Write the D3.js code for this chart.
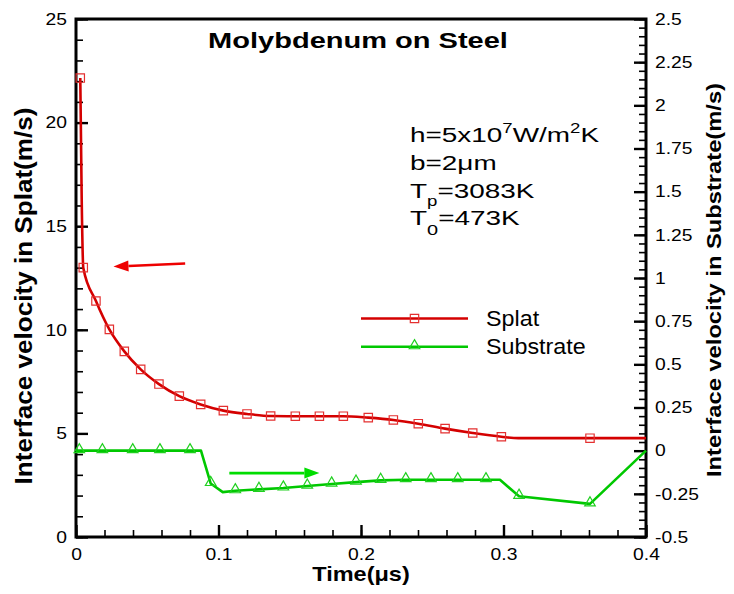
<!DOCTYPE html>
<html>
<head>
<meta charset="utf-8">
<script src="https://cdn.jsdelivr.net/npm/d3@7"></script>
<style>
  html, body { margin: 0; padding: 0; background: #fff; }
  svg { display: block; font-family: "Liberation Sans", Arial, sans-serif; }
</style>
</head>
<body>
<svg id="chart" width="734" height="594"></svg>
<script>
// splat interface velocity (left axis, m/s)
const splatTime = [0.003, 0.004, 0.0051, 0.014, 0.0234, 0.0339, 0.0454, 0.0582, 0.0725, 0.0875,
  0.1034, 0.12, 0.1366, 0.1539, 0.1708, 0.1876, 0.2051, 0.2227, 0.2402, 0.259, 0.2784,
  0.2985, 0.3104, 0.3607, 0.4];
const splatVel = [22.15, 16.3, 13.0, 11.39, 10.02, 8.96, 8.09, 7.38, 6.80, 6.40,
  6.10, 5.94, 5.84, 5.83, 5.83, 5.83, 5.76, 5.65, 5.47, 5.23, 5.02,
  4.84, 4.77, 4.77, 4.77];
const splatSymbol = [1, 0, 1, 1, 1, 1, 1, 1, 1, 1,
  1, 1, 1, 1, 1, 1, 1, 1, 1, 1, 1,
  1, 0, 1, 0];

// substrate interface velocity (right axis, m/s)
const substrateTime = [0, 0.0023, 0.0185, 0.0398, 0.0589, 0.08, 0.0877, 0.0945, 0.103, 0.1118,
  0.1284, 0.1455, 0.1623, 0.1794, 0.1965, 0.2138, 0.2314, 0.2491, 0.2679, 0.2877,
  0.2975, 0.3109, 0.3607, 0.4];
const substrateVel = [0, 0, 0, 0, 0, 0, 0, -0.19, -0.24, -0.232,
  -0.224, -0.216, -0.205, -0.193, -0.182, -0.172, -0.168, -0.168, -0.168, -0.168,
  -0.168, -0.264, -0.308, 0];
const substrateSymbol = [0, 1, 1, 1, 1, 1, 0, 1, 0, 1,
  1, 1, 1, 1, 1, 1, 1, 1, 1, 1,
  0, 1, 1, 0];

const timeTicks = [0, 0.1, 0.2, 0.3, 0.4];
const timeLabels = ["0", "0.1", "0.2", "0.3", "0.4"];
const splatTicks = [0, 5, 10, 15, 20, 25];
const substrateTicks = [-0.5, -0.25, 0, 0.25, 0.5, 0.75, 1, 1.25, 1.5, 1.75, 2, 2.25, 2.5];
const substrateLabels = ["-0.5", "-0.25", "0", "0.25", "0.5", "0.75", "1", "1.25", "1.5", "1.75", "2", "2.25", "2.5"];

const RED = "#d40000", RED_MARK = "#e43030";
const GREEN = "#00c800", GREEN_MARK = "#20d020";

const svg = d3.select("#chart");
const plot = { left: 76, right: 646, top: 19, bottom: 537 };

const x = d3.scaleLinear().domain([0, 0.4]).range([plot.left, plot.right]);
const yL = d3.scaleLinear().domain([0, 25]).range([plot.bottom, plot.top]);
const yR = d3.scaleLinear().domain([-0.5, 2.5]).range([plot.bottom, plot.top]);

const minor = (lo, hi, step) => d3.range(Math.round((hi - lo) / step) + 1).map(i => +(lo + i * step).toFixed(4));

// the plot's lettering is a touch wider than Arial, so text gets stretched along its baseline
const TICK_STRETCH = 1.17;

// minor ticks first, majors on top
function drawAxis(makeAxis, transform, majors, minors, labels, padding) {
  svg.append("g").attr("transform", transform)
    .call(makeAxis().tickValues(minors).tickSize(-7).tickFormat(""))
    .call(g => g.select(".domain").remove())
    .call(g => g.selectAll("line").attr("stroke", "#000").attr("stroke-width", 1.6));
  const g = svg.append("g").attr("transform", transform)
    .call(makeAxis().tickValues(majors).tickSize(-12).tickPadding(padding)
      .tickFormat((d, i) => labels[i]))
    .call(g => g.select(".domain").remove());
  g.selectAll("line").attr("stroke", "#000").attr("stroke-width", 2.4);
  g.selectAll("text").attr("font-size", 16.5).attr("fill", "#000")
    .attr("font-family", "Liberation Sans, Arial, sans-serif")
    .each(function () {
      const t = d3.select(this);
      const tx = +t.attr("x") || 0, ty = +t.attr("y") || 0;
      t.attr("x", 0).attr("y", 0)
        .attr("transform", `translate(${tx},${ty}) scale(${TICK_STRETCH},1)`);
    });
  return g;
}

drawAxis(() => d3.axisBottom(x), `translate(0,${plot.bottom})`, timeTicks, minor(0, 0.4, 0.02), timeLabels, 11);
drawAxis(() => d3.axisLeft(yL), `translate(${plot.left},0)`, splatTicks, minor(0, 25, 1), splatTicks.map(String), 9);
drawAxis(() => d3.axisRight(yR), `translate(${plot.right},0)`, substrateTicks, minor(-0.5, 2.5, 0.05), substrateLabels, 9);

// frame
svg.append("rect")
  .attr("x", plot.left).attr("y", plot.top)
  .attr("width", plot.right - plot.left).attr("height", plot.bottom - plot.top)
  .attr("fill", "none").attr("stroke", "#000").attr("stroke-width", 3);

// curves
const splatPts = splatTime.map((t, i) => ({ t, v: splatVel[i], s: splatSymbol[i] }));
const substratePts = substrateTime.map((t, i) => ({ t, v: substrateVel[i], s: substrateSymbol[i] }));

svg.append("path").datum(splatPts)
  .attr("fill", "none").attr("stroke", RED).attr("stroke-width", 2.6)
  .attr("d", d3.line().x(d => x(d.t)).y(d => yL(d.v)).curve(d3.curveMonotoneX));

svg.append("path").datum(substratePts)
  .attr("fill", "none").attr("stroke", GREEN).attr("stroke-width", 2.6)
  .attr("stroke-linejoin", "round")
  .attr("d", d3.line().x(d => x(d.t)).y(d => yR(d.v)));

const square = d3.symbol().type(d3.symbolSquare).size(70);
const triangle = d3.symbol().type(d3.symbolTriangle).size(48);

svg.append("g").selectAll("path").data(splatPts.filter(d => d.s))
  .join("path")
  .attr("transform", d => `translate(${x(d.t)},${yL(d.v)})`)
  .attr("d", square).attr("fill", "none").attr("stroke", RED_MARK).attr("stroke-width", 1.2);

svg.append("g").selectAll("path").data(substratePts.filter(d => d.s))
  .join("path")
  .attr("transform", d => `translate(${x(d.t)},${yR(d.v) - 1})`)
  .attr("d", triangle).attr("fill", "none").attr("stroke", GREEN_MARK).attr("stroke-width", 1.2);

// arrows pointing at each curve's axis
function arrow(x1, y1, x2, y2, color) {
  const ang = Math.atan2(y2 - y1, x2 - x1), len = 15, half = 5.5;
  const bx = x2 - len * Math.cos(ang), by = y2 - len * Math.sin(ang);
  svg.append("line").attr("x1", x1).attr("y1", y1).attr("x2", bx).attr("y2", by)
    .attr("stroke", color).attr("stroke-width", 2.6);
  svg.append("path")
    .attr("d", `M${x2},${y2}L${bx - half * Math.sin(ang)},${by + half * Math.cos(ang)}` +
      `L${bx + half * Math.sin(ang)},${by - half * Math.cos(ang)}Z`)
    .attr("fill", color);
}
arrow(x(0.0766), yL(13.2), x(0.0263), yL(13.05), "#ee0000");
arrow(x(0.1076), yR(-0.13), x(0.1708), yR(-0.13), "#00dd00");

// positioned text, stretched by sx along its own baseline
function label(tx, ty, size, sx, opts = {}) {
  const t = svg.append("text")
    .attr("transform", `translate(${tx},${ty})${opts.rotate ? " rotate(-90)" : ""} scale(${sx},1)`)
    .attr("font-size", size).attr("fill", "#000")
    .attr("text-anchor", opts.anchor || "start");
  if (opts.bold) t.attr("font-weight", "bold");
  return t;
}

// title
label(358, 48, 22.5, 1.29, { anchor: "middle", bold: true }).text("Molybdenum on Steel");

// parameter block
const l1 = label(410, 142, 21, 1.33);
l1.append("tspan").text("h=5x10");
l1.append("tspan").attr("font-size", 14).attr("dy", -9).text("7");
l1.append("tspan").attr("dy", 9).text("W/m");
l1.append("tspan").attr("font-size", 14).attr("dy", -9).text("2");
l1.append("tspan").attr("dy", 9).text("K");
label(410, 170, 21, 1.33).text("b=2\u03bcm");
const l3 = label(410, 197.5, 21, 1.33);
l3.append("tspan").text("T");
l3.append("tspan").attr("font-size", 14).attr("dy", 8).text("p");
l3.append("tspan").attr("dy", -8).text("=3083K");
const l4 = label(410, 225, 21, 1.33);
l4.append("tspan").text("T");
l4.append("tspan").attr("font-size", 15).attr("dy", 10).text("0");
l4.append("tspan").attr("dy", -10).text("=473K");

// legend
[["Splat", RED, RED_MARK, square, 318.5], ["Substrate", GREEN, GREEN_MARK, triangle, 346.7]]
  .forEach(([name, col, mcol, sym, ly]) => {
    svg.append("line").attr("x1", 361).attr("x2", 468).attr("y1", ly).attr("y2", ly)
      .attr("stroke", col).attr("stroke-width", 2.6);
    svg.append("path").attr("transform", `translate(414.5,${ly - (sym === triangle ? 1 : 0)})`)
      .attr("d", sym).attr("fill", "none").attr("stroke", mcol).attr("stroke-width", 1.2);
    label(486, ly + 7.7, 22, 1.06).text(name);
  });

// axis titles
label(361, 581, 21, 1.12, { anchor: "middle", bold: true }).text("Time(\u03bcs)");
label(32, 296, 24.5, 1.065, { anchor: "middle", bold: true, rotate: true })
  .text("Interface velocity in Splat(m/s)");
label(721, 280, 21, 1.13, { anchor: "middle", bold: true, rotate: true })
  .text("Interface velocity in Substrate(m/s)");
</script>
</body>
</html>
